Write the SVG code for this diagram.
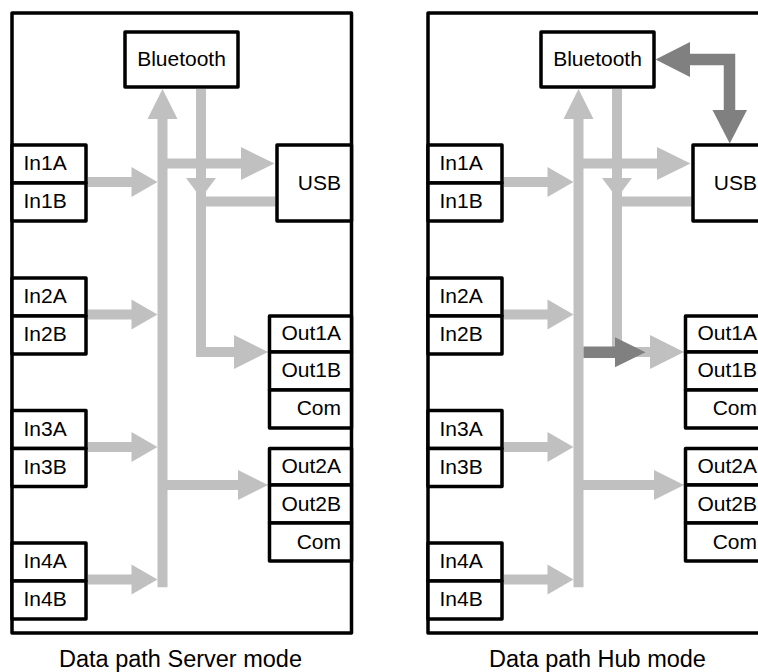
<svg xmlns="http://www.w3.org/2000/svg" width="758" height="672" viewBox="0 0 758 672">
<style>
.panel{fill:#fff;stroke:#000;stroke-width:3.5;stroke-linejoin:round}
.box{fill:#fff;stroke:#000;stroke-width:3.5;stroke-linejoin:round}
.t{font-family:"Liberation Sans",Arial,sans-serif;font-size:21px;fill:#000}
.e{text-anchor:end}
.m{text-anchor:middle}
.cap{font-size:23.5px}
.ls{fill:none;stroke:#c0c0c0;stroke-width:10;stroke-linejoin:miter}
.lh{fill:#c0c0c0}
.ds{fill:none;stroke:#808080;stroke-width:11.5;stroke-linejoin:miter}
.dh{fill:#808080}
</style>
<defs>
<g id="lightpaths">
<path class="ls" d="M162.5 119V587.3"/>
<polygon class="lh" points="147.5,119 177.5,119 162.5,89"/>
<path class="ls" d="M88 182H132"/>
<polygon class="lh" points="131.5,167 131.5,197 157.5,182"/>
<path class="ls" d="M88 314.5H132"/>
<polygon class="lh" points="131.5,299.5 131.5,329.5 157.5,314.5"/>
<path class="ls" d="M88 447H132"/>
<polygon class="lh" points="131.5,432 131.5,462 157.5,447"/>
<path class="ls" d="M88 579.5H132"/>
<polygon class="lh" points="131.5,564.5 131.5,594.5 157.5,579.5"/>
<path class="ls" d="M167 163.5H242"/>
<polygon class="lh" points="241,147 241,180 274.5,163.5"/>
<path class="ls" d="M201 89V352H235"/>
<polygon class="lh" points="186,178 216,178 201,198"/>
<polygon class="lh" points="234,335 234,369 268,352"/>
<path class="ls" d="M275.5 201.5H201"/>
<path class="ls" d="M167 485H239"/>
<polygon class="lh" points="238,470 238,500 268,485"/>
</g>
</defs>

<g id="server-panel">
<rect class="panel" x="12" y="13" width="339.5" height="620"/>
</g>
<g id="hub-panel">
<rect class="panel" x="428" y="13" width="339.5" height="620"/>
</g>

<g id="connectors">
<use href="#lightpaths"/>
<use href="#lightpaths" transform="translate(416 0)"/>
<path class="ds" d="M583.5 352.3H616"/>
<polygon class="dh" points="615,337.3 615,367.3 645.5,352.3"/>
<path class="ds" d="M689 59.5H729.5V111"/>
<polygon class="dh" points="655.5,59.5 690,42 690,77"/>
<polygon class="dh" points="712.5,110 747,110 729.75,143.5"/>
</g>

<g id="s-bluetooth"><rect class="box" x="125" y="32" width="113" height="55"/><text class="t m" x="181.5" y="66">Bluetooth</text></g>
<g id="s-in1"><rect class="box" x="12" y="145" width="74" height="38"/><rect class="box" x="12" y="183" width="74" height="38"/><text class="t" x="23.5" y="170">In1A</text><text class="t" x="23.5" y="208">In1B</text></g>
<g id="s-in2"><rect class="box" x="12" y="278" width="74" height="38"/><rect class="box" x="12" y="316" width="74" height="38"/><text class="t" x="23.5" y="303">In2A</text><text class="t" x="23.5" y="341">In2B</text></g>
<g id="s-in3"><rect class="box" x="12" y="410.5" width="74" height="38"/><rect class="box" x="12" y="448.5" width="74" height="38"/><text class="t" x="23.5" y="435.5">In3A</text><text class="t" x="23.5" y="473.5">In3B</text></g>
<g id="s-in4"><rect class="box" x="12" y="543" width="74" height="38"/><rect class="box" x="12" y="581" width="74" height="38"/><text class="t" x="23.5" y="568">In4A</text><text class="t" x="23.5" y="606">In4B</text></g>
<g id="s-usb"><rect class="box" x="277" y="145" width="74.5" height="76"/><text class="t e" x="341" y="189.5">USB</text></g>
<g id="s-out1"><rect class="box" x="269.5" y="316" width="82" height="36"/><rect class="box" x="269.5" y="352" width="82" height="38"/><rect class="box" x="269.5" y="390" width="82" height="38"/><text class="t e" x="341" y="339.5">Out1A</text><text class="t e" x="341" y="376.5">Out1B</text><text class="t e" x="341" y="414.5">Com</text></g>
<g id="s-out2"><rect class="box" x="269.5" y="448.5" width="82" height="36.5"/><rect class="box" x="269.5" y="485" width="82" height="38"/><rect class="box" x="269.5" y="523" width="82" height="38"/><text class="t e" x="341" y="473">Out2A</text><text class="t e" x="341" y="510.5">Out2B</text><text class="t e" x="341" y="548.5">Com</text></g>

<g id="h-bluetooth"><rect class="box" x="541" y="32" width="113" height="55"/><text class="t m" x="597.5" y="66">Bluetooth</text></g>
<g id="h-in1"><rect class="box" x="428" y="145" width="74" height="38"/><rect class="box" x="428" y="183" width="74" height="38"/><text class="t" x="439.5" y="170">In1A</text><text class="t" x="439.5" y="208">In1B</text></g>
<g id="h-in2"><rect class="box" x="428" y="278" width="74" height="38"/><rect class="box" x="428" y="316" width="74" height="38"/><text class="t" x="439.5" y="303">In2A</text><text class="t" x="439.5" y="341">In2B</text></g>
<g id="h-in3"><rect class="box" x="428" y="410.5" width="74" height="38"/><rect class="box" x="428" y="448.5" width="74" height="38"/><text class="t" x="439.5" y="435.5">In3A</text><text class="t" x="439.5" y="473.5">In3B</text></g>
<g id="h-in4"><rect class="box" x="428" y="543" width="74" height="38"/><rect class="box" x="428" y="581" width="74" height="38"/><text class="t" x="439.5" y="568">In4A</text><text class="t" x="439.5" y="606">In4B</text></g>
<g id="h-usb"><rect class="box" x="693" y="145" width="74.5" height="76"/><text class="t e" x="757" y="189.5">USB</text></g>
<g id="h-out1"><rect class="box" x="685.5" y="316" width="82" height="36"/><rect class="box" x="685.5" y="352" width="82" height="38"/><rect class="box" x="685.5" y="390" width="82" height="38"/><text class="t e" x="757" y="339.5">Out1A</text><text class="t e" x="757" y="376.5">Out1B</text><text class="t e" x="757" y="414.5">Com</text></g>
<g id="h-out2"><rect class="box" x="685.5" y="448.5" width="82" height="36.5"/><rect class="box" x="685.5" y="485" width="82" height="38"/><rect class="box" x="685.5" y="523" width="82" height="38"/><text class="t e" x="757" y="473">Out2A</text><text class="t e" x="757" y="510.5">Out2B</text><text class="t e" x="757" y="548.5">Com</text></g>

<g id="captions">
<text class="t m cap" x="180.5" y="667">Data path Server mode</text>
<text class="t m cap" x="597.5" y="667">Data path Hub mode</text>
</g>
</svg>
